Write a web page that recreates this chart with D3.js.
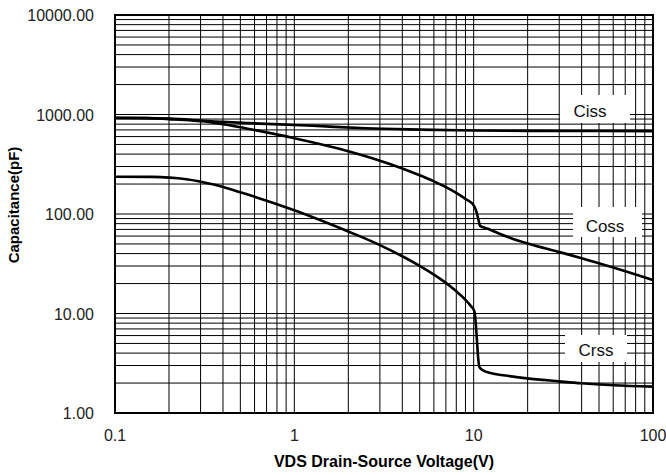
<!DOCTYPE html>
<html><head><meta charset="utf-8">
<script src="https://cdn.jsdelivr.net/npm/d3@7"></script>
<style>body{margin:0;background:#fff}svg text{font-family:"Liberation Sans",Arial,sans-serif}</style>
</head><body><svg id="c" width="666" height="475"></svg>
<script>
const cissV = [0.1,0.15,0.2,0.27,0.33,0.55,1,1.58,2.5,5,10,20,50,100];
const cissC = [922,920,908,882,860,820,785,755,727,705,690,685,682,680];
const cossV = [0.1,0.15,0.2,0.27,0.33,0.42,0.55,1,1.58,2,2.5,3,4,5,6,7,8,9,10,10.3,10.6,10.86,12,15,20,30,40,60,100];
const cossC = [926,922,898,870,842,790,720,578,477,427,380,343,287,245,213,186.6,163.3,141.9,122,109,90,76,71,60,50.5,41.5,36,29,21.7];
const crssV = [0.1,0.16,0.25,0.35,0.5,1,2,3,4,5,6,7,8,9,9.6,10.1,10.75,11.2,12.4,15,19.8,30,39.7,60,100];
const crssC = [237,236,223.7,198.9,165.3,109.1,66.7,48.7,37.6,30.1,24.6,20.3,16.7,13.7,12,10.5,2.92,2.7,2.52,2.38,2.23,2.08,1.99,1.9,1.84];
const xTicks = [0.1,1,10,100];
const xTickLabels = ["0.1","1","10","100"];
const yTicks = [1,10,100,1000,10000];
const yTickLabels = ["1.00","10.00","100.00","1000.00","10000.00"];
const seriesNames = ["Ciss","Coss","Crss"];

const svg = d3.select("#c");
const L=115,R=653,T=15,B=413;
const x = d3.scaleLog().domain([0.1,100]).range([L,R]);
const y = d3.scaleLog().domain([1,10000]).range([B,T]);

// grid
const g = svg.append("g");
const xs=[], ys=[];
for (let d=0.1; d<100; d*=10) for (let k=1;k<=9;k++) xs.push(d*k);
xs.push(100);
for (let d=1; d<10000; d*=10) for (let k=1;k<=9;k++) ys.push(d*k);
ys.push(10000);

// label boxes (mask grid)
const boxes = [
  {x0:560,x1:630,y0:95,y1:123, tx:590, ty:117},
  {x0:573,x1:642,y0:207,y1:237, tx:605, ty:232},
  {x0:565,x1:627,y0:335,y1:362, tx:596, ty:356}
];

g.selectAll("line.v").data(xs).join("line")
  .attr("x1",d=>x(d)).attr("x2",d=>x(d)).attr("y1",T).attr("y2",B)
  .attr("stroke","#000").attr("stroke-width",1);
g.selectAll("line.h").data(ys).join("line")
  .attr("y1",d=>y(d)).attr("y2",d=>y(d)).attr("x1",L).attr("x2",R)
  .attr("stroke","#000").attr("stroke-width",1);

svg.selectAll("rect.box").data(boxes).join("rect")
  .attr("x",d=>d.x0).attr("y",d=>d.y0).attr("width",d=>d.x1-d.x0).attr("height",d=>d.y1-d.y0)
  .attr("fill","#fff");

// frame
svg.append("rect").attr("x",L).attr("y",T).attr("width",R-L).attr("height",B-T)
  .attr("fill","none").attr("stroke","#000").attr("stroke-width",2);

// curves
const line = d3.line().x(d=>x(d[0])).y(d=>y(d[1])).curve(d3.curveMonotoneX);
const series = [d3.zip(cissV,cissC), d3.zip(cossV,cossC), d3.zip(crssV,crssC)];
svg.selectAll("path.s").data(series).join("path")
  .attr("d",line).attr("fill","none").attr("stroke","#000").attr("stroke-width",2.6)
  .attr("stroke-linejoin","round");

// labels
svg.selectAll("text.lab").data(boxes).join("text")
  .attr("x",d=>d.tx).attr("y",d=>d.ty).attr("text-anchor","middle")
  .attr("font-size",17).attr("fill","#111").text((d,i)=>seriesNames[i]);

// ticks
svg.selectAll("text.xt").data(xTicks).join("text")
  .attr("x",d=>x(d)).attr("y",441).attr("text-anchor","middle")
  .attr("font-size",16).attr("fill","#222").text((d,i)=>xTickLabels[i]);
svg.selectAll("text.yt").data(yTicks).join("text")
  .attr("x",94).attr("y",d=>y(d)+6).attr("text-anchor","end")
  .attr("font-size",16).attr("fill","#222").text((d,i)=>yTickLabels[i]);

// titles
svg.append("text").attr("x",384).attr("y",467).attr("text-anchor","middle")
  .attr("font-size",16).attr("font-weight","bold").attr("fill","#000").text("VDS Drain-Source Voltage(V)");
svg.append("text").attr("transform","translate(19,205) rotate(-90)").attr("text-anchor","middle")
  .attr("font-size",15).attr("font-weight","bold").attr("fill","#000").text("Capacitance(pF)");
</script></body></html>
